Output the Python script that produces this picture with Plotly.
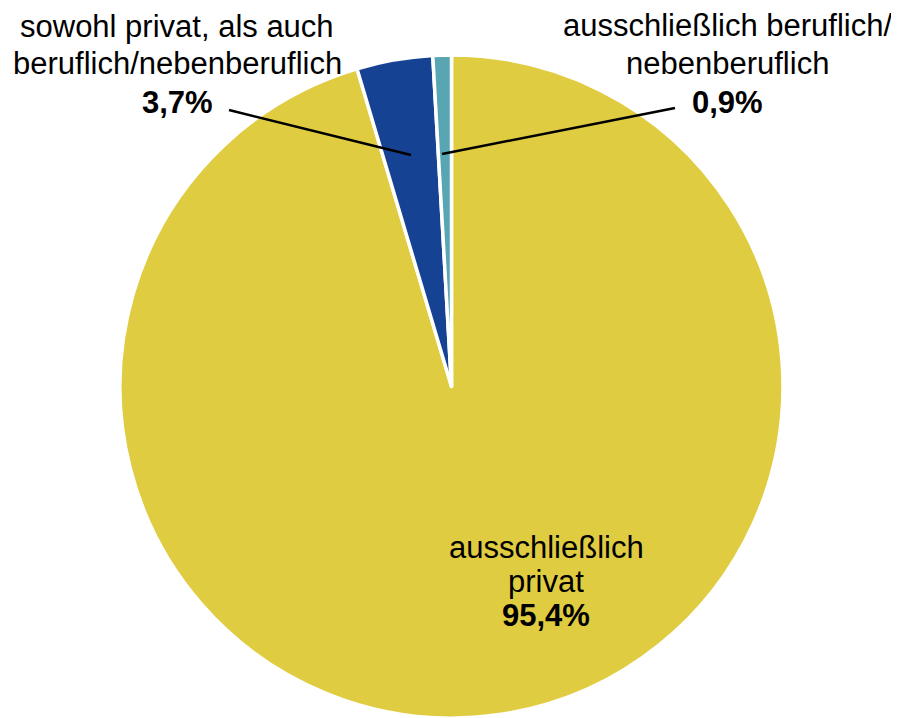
import plotly.graph_objects as go

categories = ["ausschließlich privat",
              "sowohl privat, als auch beruflich/nebenberuflich",
              "ausschließlich beruflich/nebenberuflich"]
values = [95.4, 3.7, 0.9]
value_labels = ["95,4%", "3,7%", "0,9%"]
colors = ["#E0CC40", "#164294", "#58A6B2"]

# page body has an 8px default margin; compensate
OFF = 8
W, H = 899 - OFF, 718 - OFF
FONT = "Liberation Sans, Arial, sans-serif"
FS = 31

def px(x):
    return (x - OFF) / W

def py(y):
    return 1 - (y - OFF) / H

fig = go.Figure(go.Pie(
    labels=categories,
    values=values,
    sort=False,
    direction="clockwise",
    rotation=0,
    textinfo="none",
    marker=dict(colors=colors, line=dict(color="white", width=3.5)),
    domain=dict(x=[px(119.5), px(783.5)], y=[0, py(55)]),
    showlegend=False,
))

# label lines: (text lines, center x, line center ys)
label_specs = [
    (["sowohl privat, als auch", "beruflich/nebenberuflich", "<b>" + value_labels[1] + "</b>"],
     177, [27, 63, 102]),
    (["ausschließlich beruflich/", "nebenberuflich", "<b>" + value_labels[2] + "</b>"],
     727, [26, 63, 102]),
    (["ausschließlich", "privat", "<b>" + value_labels[0] + "</b>"],
     546, [547, 581, 615]),
]

annotations = []
for lines, cx, ys in label_specs:
    for t, y in zip(lines, ys):
        annotations.append(dict(
            text=t, x=px(cx), y=py(y), xref="paper", yref="paper",
            xanchor="center", yanchor="middle", showarrow=False,
            font=dict(family=FONT, size=FS, color="black"),
        ))

# leader lines
leaders = [((229, 110), (411, 155)), ((675, 108), (442, 154))]
shapes = []
for (x0, y0), (x1, y1) in leaders:
    shapes.append(dict(type="line", xref="paper", yref="paper",
                       x0=px(x0), y0=py(y0), x1=px(x1), y1=py(y1),
                       line=dict(color="black", width=2.5)))

fig.update_layout(
    width=W, height=H,
    margin=dict(l=0, r=0, t=0, b=0),
    paper_bgcolor="white",
    plot_bgcolor="white",
    annotations=annotations,
    shapes=shapes,
)

fig.write_html("out.html")
